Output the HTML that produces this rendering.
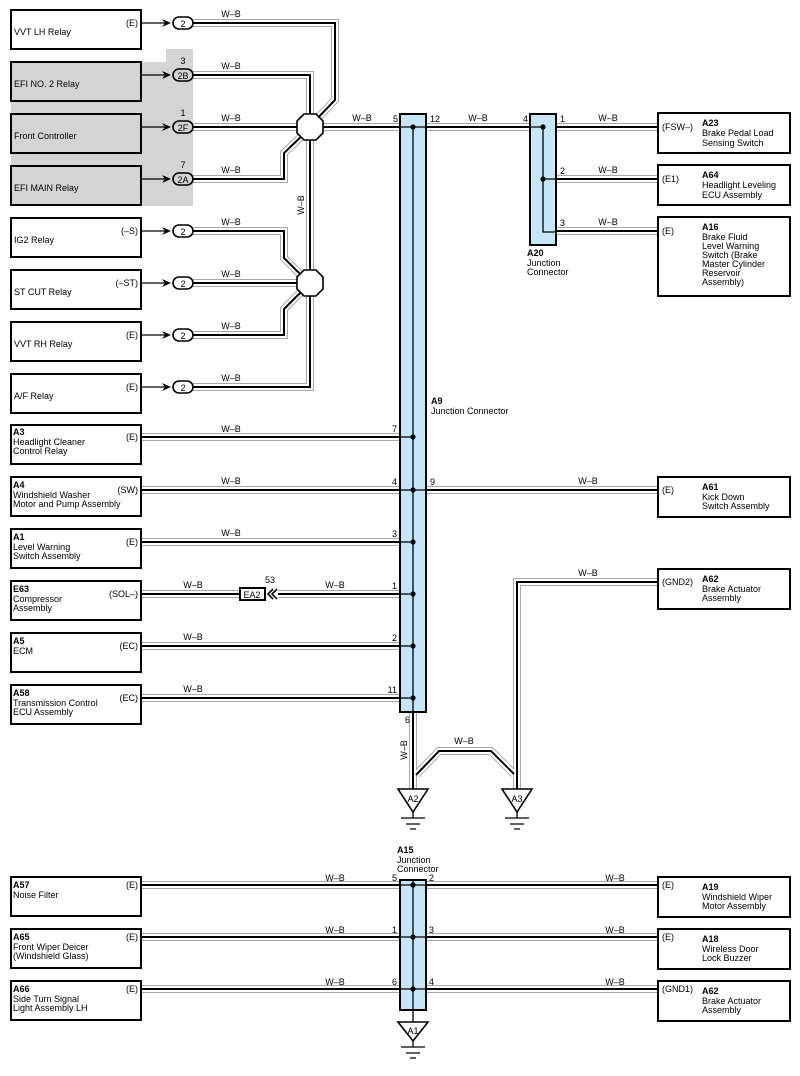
<!DOCTYPE html>
<html><head><meta charset="utf-8"><style>
body{margin:0;background:#fff}
svg{display:block;font-family:"Liberation Sans",Arial,sans-serif;font-size:9px}
.b{font-weight:bold}
</style></head><body>
<svg width="800" height="1076" viewBox="0 0 800 1076" xmlns="http://www.w3.org/2000/svg">
<path d="M11 62 H166 V49 H193 V206 H11 Z" fill="#d4d4d4"/>
<defs>
<g id="wires" fill="none">
<path d="M193 23 H335 V100 L312 124"/>
<path d="M193 75 H310 V115"/>
<path d="M193 127 H400"/>
<path d="M193 179 H284 V153 L306 132"/>
<path d="M310 127 V387 H193"/>
<path d="M193 231 H284 V258 L305 279"/>
<path d="M193 283 H310"/>
<path d="M193 335 H284 V309 L305 288"/>
<path d="M426 127 H530"/>
<path d="M556 127 H658"/>
<path d="M556 179 H658"/>
<path d="M556 231 H658"/>
<path d="M141 437 H400"/>
<path d="M141 490 H400"/>
<path d="M426 490 H658"/>
<path d="M141 542 H400"/>
<path d="M141 594 H240"/>
<path d="M278 594 H400"/>
<path d="M141 646 H400"/>
<path d="M141 698 H400"/>
<path d="M658 582 H517 V790"/>
<path d="M413 712 V790"/>
<path d="M416 775 L439 751 H491 L514 774"/>
<path d="M141 885 H400"/><path d="M426 885 H658"/>
<path d="M141 937 H400"/><path d="M426 937 H658"/>
<path d="M141 989 H400"/><path d="M426 989 H658"/>
</g>
</defs>
<use href="#wires" stroke="#a8a8a8" stroke-width="8"/>
<use href="#wires" stroke="#fff" stroke-width="6"/>
<use href="#wires" stroke="#000" stroke-width="2"/>

<g fill="#fff" stroke="#000" stroke-width="2">
<rect x="11" y="10" width="130" height="39"/>
<rect x="11" y="62" width="130" height="39" fill="#d4d4d4"/>
<rect x="11" y="114" width="130" height="39" fill="#d4d4d4"/>
<rect x="11" y="166" width="130" height="39" fill="#d4d4d4"/>
<rect x="11" y="218" width="130" height="39"/>
<rect x="11" y="270" width="130" height="39"/>
<rect x="11" y="322" width="130" height="39"/>
<rect x="11" y="374" width="130" height="39"/>
<rect x="11" y="425" width="130" height="39"/>
<rect x="11" y="477" width="130" height="39"/>
<rect x="11" y="529" width="130" height="39"/>
<rect x="11" y="581" width="130" height="39"/>
<rect x="11" y="633" width="130" height="39"/>
<rect x="11" y="685" width="130" height="39"/>
<rect x="11" y="877" width="130" height="39"/>
<rect x="11" y="929" width="130" height="39"/>
<rect x="11" y="981" width="130" height="39"/>
<rect x="658" y="113" width="132" height="40"/>
<rect x="658" y="165" width="132" height="40"/>
<rect x="658" y="217" width="132" height="79"/>
<rect x="658" y="477" width="132" height="40"/>
<rect x="658" y="569" width="132" height="40"/>
<rect x="658" y="877" width="132" height="40"/>
<rect x="658" y="929" width="132" height="40"/>
<rect x="658" y="981" width="132" height="40"/>
<rect x="400" y="114" width="26" height="598" fill="#c6e7f7"/>
<rect x="530" y="114" width="26" height="131" fill="#c6e7f7"/>
<rect x="400" y="880" width="26" height="130" fill="#c6e7f7"/>
<rect x="240" y="588" width="25" height="12"/>
</g>
<g stroke="#000" stroke-width="1.3" fill="none">
<path d="M141 23H168M141 75H168M141 127H168M141 179H168M141 231H168M141 283H168M141 335H168M141 387H168"/>
<path d="M413 127V712M413 880V1022M543 127V232H556"/>
<path d="M400 127H426M530 127H543M400 437H413M400 490H426M400 542H413M400 594H413M400 646H413M400 698H413M543 179H556M400 885H426M400 937H426M400 989H426"/>
</g>
<g id="arr">
<path d="M162 19 L171 23 L162 27 L165 23 Z" fill="#000"/>
</g>
<use href="#arr" y="52"/><use href="#arr" y="104"/><use href="#arr" y="156"/><use href="#arr" y="208"/><use href="#arr" y="260"/><use href="#arr" y="312"/><use href="#arr" y="364"/>
<g fill="#fff" stroke="#000" stroke-width="1.6">
<rect x="173" y="17" width="20" height="12" rx="6"/>
<rect x="173" y="69" width="20" height="12" rx="6" fill="#d4d4d4"/>
<rect x="173" y="121" width="20" height="12" rx="6" fill="#d4d4d4"/>
<rect x="173" y="173" width="20" height="12" rx="6" fill="#d4d4d4"/>
<rect x="173" y="225" width="20" height="12" rx="6"/>
<rect x="173" y="277" width="20" height="12" rx="6"/>
<rect x="173" y="329" width="20" height="12" rx="6"/>
<rect x="173" y="381" width="20" height="12" rx="6"/>
<polygon points="304,114 316,114 323,121 323,133 316,140 304,140 297,133 297,121"/>
<polygon points="304,270 316,270 323,277 323,289 316,296 304,296 297,289 297,277"/>
<polygon points="398,789 428,789 413,812"/>
<polygon points="502,789 532,789 517,812"/>
<polygon points="398,1022 428,1022 413,1041"/>
</g>
<path d="M273 589 L268 594 L273 599 M277 589 L272 594 L277 599" fill="none" stroke="#000" stroke-width="1.6"/>
<g stroke="#000" stroke-width="1.3">
<path d="M413 812V818M401 818H425M406 824H420M410 829H416"/>
<path d="M517 812V818M505 818H529M510 824H524M514 829H520"/>
<path d="M413 1041V1047M401 1047H425M406 1053H420M410 1058H416"/>
</g>
<g fill="#000">
<circle cx="413" cy="127" r="2.6"/><circle cx="413" cy="437" r="2.6"/><circle cx="413" cy="490" r="2.6"/><circle cx="413" cy="542" r="2.6"/><circle cx="413" cy="594" r="2.6"/><circle cx="413" cy="646" r="2.6"/><circle cx="413" cy="698" r="2.6"/>
<circle cx="543" cy="127" r="2.6"/><circle cx="543" cy="179" r="2.6"/>
<circle cx="413" cy="885" r="2.6"/><circle cx="413" cy="937" r="2.6"/><circle cx="413" cy="989" r="2.6"/>
</g>

<g fill="#000">
<g text-anchor="middle">
<text x="183" y="27">2</text><text x="183" y="79">2B</text><text x="183" y="131">2F</text><text x="183" y="183">2A</text>
<text x="183" y="235">2</text><text x="183" y="287">2</text><text x="183" y="339">2</text><text x="183" y="391">2</text>
<text x="183" y="64">3</text><text x="183" y="116">1</text><text x="183" y="168">7</text>
<text x="252" y="598">EA2</text><text x="270" y="583">53</text>
<text x="413" y="802">A2</text><text x="517" y="802">A3</text><text x="413" y="1034">A1</text>
</g>
<g text-anchor="middle">
<text x="231" y="17">W–B</text><text x="231" y="69">W–B</text><text x="231" y="121">W–B</text><text x="231" y="173">W–B</text>
<text x="231" y="225">W–B</text><text x="231" y="277">W–B</text><text x="231" y="329">W–B</text><text x="231" y="381">W–B</text>
<text x="362" y="121">W–B</text><text x="478" y="121">W–B</text>
<text x="608" y="121">W–B</text><text x="608" y="173">W–B</text><text x="608" y="225">W–B</text>
<text x="231" y="432">W–B</text><text x="231" y="484">W–B</text><text x="231" y="536">W–B</text>
<text x="193" y="588">W–B</text><text x="335" y="588">W–B</text>
<text x="193" y="640">W–B</text><text x="193" y="692">W–B</text>
<text x="588" y="484">W–B</text><text x="588" y="576">W–B</text><text x="464" y="744">W–B</text>
<text x="335" y="881">W–B</text><text x="335" y="933">W–B</text><text x="335" y="985">W–B</text>
<text x="615" y="881">W–B</text><text x="615" y="933">W–B</text><text x="615" y="985">W–B</text>
<text transform="translate(304,205) rotate(-90)">W–B</text>
<text transform="translate(407,750) rotate(-90)">W–B</text>
</g>
<g text-anchor="end">
<text x="398" y="122">5</text><text x="528" y="122">4</text>
<text x="397" y="432">7</text><text x="397" y="485">4</text><text x="397" y="537">3</text><text x="397" y="589">1</text><text x="397" y="641">2</text><text x="397" y="693">11</text>
<text x="410" y="723">6</text>
<text x="397" y="881">5</text><text x="397" y="933">1</text><text x="397" y="985">6</text>
</g>
<text x="430" y="122">12</text><text x="560" y="122">1</text><text x="560" y="174">2</text><text x="560" y="226">3</text>
<text x="430" y="485">9</text>
<text x="429" y="881">2</text><text x="429" y="933">3</text><text x="429" y="985">4</text>
<text x="14" y="35">VVT LH Relay</text>
<text x="14" y="87">EFI NO. 2 Relay</text>
<text x="14" y="139">Front Controller</text>
<text x="14" y="191">EFI MAIN Relay</text>
<text x="14" y="243">IG2 Relay</text>
<text x="14" y="295">ST CUT Relay</text>
<text x="14" y="347">VVT RH Relay</text>
<text x="14" y="399">A/F Relay</text>
<g text-anchor="end">
<text x="138" y="26">(E)</text><text x="138" y="234">(–S)</text><text x="138" y="286">(–ST)</text><text x="138" y="338">(E)</text><text x="138" y="390">(E)</text>
<text x="138" y="440">(E)</text><text x="138" y="493">(SW)</text><text x="138" y="545">(E)</text><text x="138" y="597">(SOL–)</text><text x="138" y="649">(EC)</text><text x="138" y="701">(EC)</text>
<text x="138" y="888">(E)</text><text x="138" y="940">(E)</text><text x="138" y="992">(E)</text>
</g>
<text x="13" y="435" class="b">A3</text><text x="13" y="445">Headlight Cleaner</text><text x="13" y="454">Control Relay</text>
<text x="13" y="488" class="b">A4</text><text x="13" y="498">Windshield Washer</text><text x="13" y="507">Motor and Pump Assembly</text>
<text x="13" y="540" class="b">A1</text><text x="13" y="550">Level Warning</text><text x="13" y="559">Switch Assembly</text>
<text x="13" y="592" class="b">E63</text><text x="13" y="602">Compressor</text><text x="13" y="611">Assembly</text>
<text x="13" y="644" class="b">A5</text><text x="13" y="654">ECM</text>
<text x="13" y="696" class="b">A58</text><text x="13" y="706">Transmission Control</text><text x="13" y="715">ECU Assembly</text>
<text x="13" y="888" class="b">A57</text><text x="13" y="898">Noise Filter</text>
<text x="13" y="940" class="b">A65</text><text x="13" y="950">Front Wiper Deicer</text><text x="13" y="959">(Windshield Glass)</text>
<text x="13" y="992" class="b">A66</text><text x="13" y="1002">Side Turn Signal</text><text x="13" y="1011">Light Assembly LH</text>
<text x="431" y="404" class="b">A9</text><text x="431" y="414">Junction Connector</text>
<text x="527" y="256" class="b">A20</text><text x="527" y="266">Junction</text><text x="527" y="275">Connector</text>
<text x="397" y="853" class="b">A15</text><text x="397" y="863">Junction</text><text x="397" y="872">Connector</text>
<text x="662" y="130">(FSW–)</text><text x="702" y="126" class="b">A23</text><text x="702" y="136">Brake Pedal Load</text><text x="702" y="146">Sensing Switch</text>
<text x="662" y="182">(E1)</text><text x="702" y="178" class="b">A64</text><text x="702" y="188">Headlight Leveling</text><text x="702" y="198">ECU Assembly</text>
<text x="662" y="234">(E)</text><text x="702" y="230" class="b">A16</text><text x="702" y="240">Brake Fluid</text><text x="702" y="249">Level Warning</text><text x="702" y="258">Switch (Brake</text><text x="702" y="267">Master Cylinder</text><text x="702" y="276">Reservoir</text><text x="702" y="285">Assembly)</text>
<text x="662" y="493">(E)</text><text x="702" y="490" class="b">A61</text><text x="702" y="500">Kick Down</text><text x="702" y="509">Switch Assembly</text>
<text x="662" y="585">(GND2)</text><text x="702" y="582" class="b">A62</text><text x="702" y="592">Brake Actuator</text><text x="702" y="601">Assembly</text>
<text x="662" y="888">(E)</text><text x="702" y="890" class="b">A19</text><text x="702" y="900">Windshield Wiper</text><text x="702" y="909">Motor Assembly</text>
<text x="662" y="940">(E)</text><text x="702" y="942" class="b">A18</text><text x="702" y="952">Wireless Door</text><text x="702" y="961">Lock Buzzer</text>
<text x="662" y="992">(GND1)</text><text x="702" y="994" class="b">A62</text><text x="702" y="1004">Brake Actuator</text><text x="702" y="1013">Assembly</text>
</g>
</svg>
</body></html>
